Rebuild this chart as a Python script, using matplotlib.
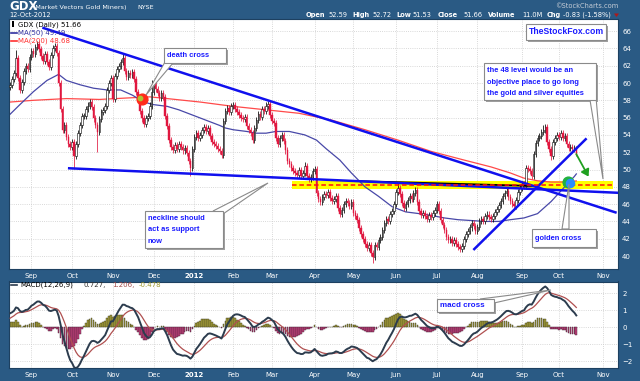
"""GDX daily chart with MA(50)/MA(200), trend lines, callouts and a MACD panel."""
import numpy as np
import matplotlib
matplotlib.use("Agg")
import matplotlib.pyplot as plt
from matplotlib.patches import Rectangle, Polygon, FancyArrowPatch
from matplotlib.lines import Line2D

W, H = 640, 381
BG = "#2a5a84"
UI = "DejaVu Sans"
ANN = "Liberation Sans"

# ---- data (bar index 0 = 17-Aug-2011, 292 = 12-Oct-2012) ----
CLOSES = [
    59.8, 60.5, 61.2, 62.9, 60.6, 59.2, 60.1, 61.4, 62.0, 61.6,
    63.0, 63.7, 63.4, 64.2, 64.5, 63.9, 63.1, 62.6, 63.3, 62.4,
    61.8, 63.2, 64.1, 64.3, 63.5, 60.0, 57.0, 54.6, 55.2, 53.8,
    53.0, 52.6, 53.2, 51.6, 53.0, 54.2, 55.2, 56.2, 56.2, 57.0,
    57.4, 57.8, 57.2, 55.9, 55.1, 54.3, 55.8, 56.6, 56.9, 57.3,
    59.2, 60.0, 60.6, 58.1, 60.8, 61.6, 62.0, 62.4, 62.9, 61.4,
    60.7, 61.2, 60.9, 61.3, 60.5, 59.0, 58.4, 56.8, 55.9, 55.3,
    56.0, 56.2, 57.4, 59.0, 60.0, 59.3, 58.8, 58.3, 58.9, 58.4,
    56.2, 55.0, 53.4, 52.6, 52.3, 52.8, 52.4, 53.0, 52.6, 52.2,
    52.5, 51.9, 51.0, 50.2, 52.4, 53.8, 54.2, 53.6, 54.0, 54.6,
    54.9, 54.4, 54.8, 53.9, 53.2, 52.9, 52.7, 52.4, 52.1, 51.7,
    55.6, 56.8, 57.1, 56.7, 57.3, 57.5, 57.0, 56.6, 56.3, 56.0,
    55.8, 56.1, 55.0, 54.6, 54.2, 53.4, 54.8, 55.7, 56.4, 56.1,
    57.0, 56.8, 57.4, 57.6, 56.3, 55.6, 55.4, 53.6, 53.0, 53.6,
    54.0, 53.3, 52.2, 51.0, 50.6, 50.2, 49.8, 49.6, 49.4, 49.9,
    49.3, 49.6, 50.4, 49.3, 48.9, 49.1, 49.8, 50.1, 47.3, 46.6,
    46.3, 46.8, 47.2, 47.0, 47.4, 46.7, 46.4, 46.6, 46.9, 45.6,
    44.9, 45.3, 46.0, 46.4, 46.1, 45.8, 46.2, 45.0, 44.6, 44.2,
    43.2, 42.5, 42.0, 41.4, 40.9, 41.3, 40.3, 39.9, 41.3, 41.0,
    41.8, 42.2, 43.0, 43.8, 44.3, 44.0, 44.9, 45.2, 46.0, 47.4,
    47.9, 47.2, 46.1, 45.5, 46.0, 46.5, 46.9, 46.6, 47.3, 47.6,
    46.2, 45.2, 44.8, 45.0, 44.6, 44.3, 44.7, 44.5, 45.0, 45.3,
    46.0, 45.2, 44.2, 43.6, 43.0, 42.2, 41.8, 42.0, 41.5, 41.8,
    41.4, 41.0, 40.8, 41.2, 42.0, 42.6, 42.9, 43.3, 43.8, 43.5,
    42.9, 43.4, 44.0, 44.3, 44.1, 44.6, 44.8, 44.5, 44.3, 44.6,
    45.1, 45.4, 45.9, 46.4, 46.9, 47.3, 47.5, 46.8, 46.4, 46.0,
    45.8, 46.5, 47.4, 47.9, 48.3, 48.1, 50.2, 50.1, 49.8, 49.2,
    51.8, 53.1, 53.6, 53.9, 54.3, 54.6, 54.9, 53.2, 52.4, 51.6,
    53.2, 53.6, 54.0, 53.8, 54.2, 53.7, 53.9, 53.0, 52.5, 52.6,
    52.4, 52.49, 51.66,
]
FIRST_OPEN = 59.5
LAST_BAR = {"open": 52.59, "high": 52.72, "low": 51.53}
WICK = 0.35
HIGH_SPIKES = {3: 63.8, 58: 63.4, 73: 60.4, 115: 57.8, 133: 57.9,
               152: 50.9, 200: 48.4, 275: 55.1}
LOW_SPIKES = {33: 50.1, 45: 52.0, 93: 49.2, 187: 39.2, 279: 51.1}

# MACD state carried in from before the visible window
EMA12_START = 58.9
EMA26_START = 58.1
SIGNAL_START = 0.45

MA50_IDX = [0, 5, 12, 19, 25, 29, 36, 43, 50, 57, 63, 69, 74, 81, 87, 94,
            101, 108, 111, 115, 122, 127, 132, 137, 144, 152, 158, 163, 170,
            176, 183, 190, 197, 204, 211, 217, 224, 231, 238, 245, 252, 258,
            265, 272, 279, 286, 291, 292]
MA50_VAL = [56.4, 57.5, 59.0, 60.3, 61.0, 60.3, 59.8, 59.4, 59.2, 59.2, 58.6,
            57.8, 57.5, 57.3, 56.9, 56.3, 55.7, 55.1, 54.8, 54.6, 54.4, 54.2,
            54.2, 54.4, 54.4, 54.0, 53.4, 52.4, 51.1, 49.6, 48.0, 46.9, 45.7,
            45.1, 44.9, 44.7, 44.4, 44.2, 44.1, 44.0, 44.0, 44.2, 44.4, 44.9,
            46.3, 48.0, 49.2, 49.49]
MA200_IDX = [0, 12, 29, 46, 63, 72, 81, 98, 115, 132, 149, 166, 183, 200,
             217, 234, 248, 258, 265, 272, 279, 286, 292]
MA200_VAL = [57.8, 58.0, 58.2, 58.1, 58.3, 58.4, 58.2, 57.8, 57.3, 56.9, 56.5,
             55.7, 54.6, 53.4, 52.1, 51.1, 50.3, 49.6, 49.0, 48.7, 48.55,
             48.55, 48.68]

MONTH_IDX = [11, 32, 53, 74, 95, 115, 135, 157, 177, 199, 220, 241, 264, 283, 306]
MONTH_LBL = ["Sep", "Oct", "Nov", "Dec", "2012", "Feb", "Mar", "Apr", "May",
             "Jun", "Jul", "Aug", "Sep", "Oct", "Nov"]
PRICE_TICKS = list(range(40, 67, 2))
MACD_TICKS = [-2, -1, 0, 1, 2]

# hand-drawn annotations, in (bar index, price)
DOWN_LINE = ([16.6, 312.8], [66.4, 45.0])
NECKLINE = ([29.8, 314.5], [50.15, 47.3])
UP_LINE = ([238.9, 297.3], [40.7, 53.6])
BLACK_LINE = ([180.8, 269.6], [48.65, 48.1])
BAND = (145.2, 311.0, 47.75, 48.7)
DASH_LEVEL = 48.25
ARROW = ((291.3, 52.06), (299.0, 48.9))
DEATH_CROSS = (67.8, 58.2)
GOLDEN_CROSS = (287.9, 48.6)

HEADER_RIGHT = [("Open", True), ("52.59", False), ("High", True), ("52.72", False),
                ("Low", True), ("51.53", False), ("Close", True), ("51.66", False),
                ("Volume", True), ("11.0M", False), ("Chg", True),
                ("-0.83 (-1.58%)", False)]
HEADER_X = [306, 328, 352, 372, 396, 412, 438, 463, 488, 522, 547, 563]


def fx(x):
    return x / W


def fy(y):
    return 1 - y / H


def ptext(x, y, s, **kw):
    kw.setdefault("va", "center")
    kw.setdefault("ha", "left")
    return fig.text(fx(x), fy(y), s, **kw)


def ema(values, span, start):
    alpha = 2.0 / (span + 1)
    out = np.empty(len(values))
    level = start
    for i, v in enumerate(values):
        level = level + alpha * (v - level)
        out[i] = level
    return out


def callout(box, lines, base, tip, fs=5.4, dy=11.3, first=None):
    x0, y0, x1, y1 = box
    fig.add_artist(Rectangle((fx(x0 + 2), fy(y1 + 2)), (x1 - x0) / W, (y1 - y0) / H,
                             transform=fig.transFigure, facecolor="#a0a0a0",
                             edgecolor="none", zorder=10))
    fig.add_artist(Polygon([(fx(base[0][0]), fy(base[0][1])), (fx(tip[0]), fy(tip[1])),
                            (fx(base[1][0]), fy(base[1][1]))], closed=True,
                           transform=fig.transFigure, facecolor="white",
                           edgecolor="#8a8a8a", lw=0.8, zorder=11))
    fig.add_artist(Rectangle((fx(x0), fy(y1)), (x1 - x0) / W, (y1 - y0) / H,
                             transform=fig.transFigure, facecolor="white",
                             edgecolor="#8a8a8a", lw=0.8, zorder=12))
    y = first if first is not None else (y0 + y1) / 2
    for i, s in enumerate(lines):
        ptext(x0 + 3, y + i * dy, s, fontsize=fs, color="#1a1aff",
              fontweight="bold", family=ANN, zorder=13)


closes = np.array(CLOSES)
n = len(closes)
idx = np.arange(n)
opens = np.r_[FIRST_OPEN, closes[:-1]]
opens[-1] = LAST_BAR["open"]
highs = np.maximum(opens, closes) + WICK
lows = np.minimum(opens, closes) - WICK
for k, v in HIGH_SPIKES.items():
    highs[k] = v
for k, v in LOW_SPIKES.items():
    lows[k] = v
highs[-1] = LAST_BAR["high"]
lows[-1] = LAST_BAR["low"]
prev = np.r_[FIRST_OPEN, closes[:-1]]
down_day = closes < prev
hollow = closes >= opens

macd = ema(closes, 12, EMA12_START) - ema(closes, 26, EMA26_START)
signal = ema(macd, 9, SIGNAL_START)
hist = macd - signal

fig = plt.figure(figsize=(W / 100, H / 100), dpi=100, facecolor=BG)
ax = fig.add_axes([fx(9), fy(269), (618 - 9) / W, (269 - 19) / H])
axm = fig.add_axes([fx(9), fy(368), (618 - 9) / W, (368 - 281.5) / H])

grid_kw = dict(color="#cccccc", lw=0.6, ls=(0, (1, 1.6)))
for a in (ax, axm):
    a.set_facecolor("white")
    a.set_xlim(-0.6, 313.5)
    a.set_xticks(MONTH_IDX)
    a.set_xticklabels(MONTH_LBL)
    a.yaxis.tick_right()
    a.tick_params(length=0, colors="white", labelsize=5, pad=3)
    a.grid(True, **grid_kw)
    a.set_axisbelow(True)
    for sp in a.spines.values():
        sp.set_color("#1d4060")
        sp.set_linewidth(0.8)
    for lbl in a.get_xticklabels():
        lbl.set_family(UI)
        if lbl.get_text() == "2012":
            lbl.set_fontweight("bold")
    for lbl in a.get_yticklabels():
        lbl.set_family(UI)

ax.set_ylim(38.5, 67.4)
ax.set_yticks(PRICE_TICKS)
axm.set_ylim(-2.41, 2.68)
axm.set_yticks(MACD_TICKS)

# --- price panel ---
ax.add_patch(Rectangle((BAND[0], BAND[2]), BAND[1] - BAND[0], BAND[3] - BAND[2],
                       facecolor="#ffff00", edgecolor="none", zorder=1))
ax.plot(MA200_IDX, MA200_VAL, color="#ff4a4a", lw=0.9, zorder=2)
ax.plot(MA50_IDX, MA50_VAL, color="#4848a8", lw=0.9, zorder=2)

red = "#e0173f"
wick_col = np.where(down_day, red, "black")
ax.vlines(idx, lows, highs, colors=wick_col, lw=0.55, zorder=3)
body = np.maximum(np.abs(closes - opens), 0.12)
bottom = np.minimum(opens, closes)
h_up = hollow
ax.bar(idx[h_up], body[h_up], bottom=bottom[h_up], width=0.8,
       facecolor="white", edgecolor=wick_col[h_up], lw=0.4, zorder=4)
ax.bar(idx[~h_up], body[~h_up], bottom=bottom[~h_up], width=0.8,
       facecolor=wick_col[~h_up], edgecolor=wick_col[~h_up], lw=0.3, zorder=4)

ax.plot(*BLACK_LINE, color="black", lw=1.3, zorder=5)
for xs, ys in (DOWN_LINE, NECKLINE, UP_LINE):
    ax.plot(xs, ys, color="#1010ee", lw=1.8, zorder=5, solid_capstyle="butt")
ax.plot([BAND[0], BAND[1]], [DASH_LEVEL, DASH_LEVEL], color="#ff1010", lw=1.1,
        ls=(0, (3, 1.8)), zorder=6)
ax.add_patch(FancyArrowPatch(ARROW[0], ARROW[1], arrowstyle="-|>,head_length=4,head_width=2.6",
                             color="#20a020", lw=1.3, zorder=7))
ax.scatter([DEATH_CROSS[0]], [DEATH_CROSS[1]], s=60, color="#ff2a1a", zorder=7)
ax.scatter([DEATH_CROSS[0] - 0.8], [DEATH_CROSS[1] + 0.1], s=10, color="#b0c030", zorder=7)
ax.scatter([GOLDEN_CROSS[0]], [GOLDEN_CROSS[1]], s=60, color="#22b040", zorder=7)
ax.scatter([GOLDEN_CROSS[0] + 0.8], [GOLDEN_CROSS[1] - 0.15], s=34, color="#2a8cff", zorder=7)

# --- MACD panel ---
pos = hist >= 0
axm.bar(idx[pos], hist[pos], width=0.85, facecolor="#aaa23a", edgecolor="#3a3a20",
        lw=0.3, zorder=2)
axm.bar(idx[~pos], hist[~pos], width=0.85, facecolor="#c2407c", edgecolor="#402030",
        lw=0.3, zorder=2)
axm.plot(idx, signal, color="#b05050", lw=0.9, zorder=3)
axm.plot(idx, macd, color="#2c3c4e", lw=1.4, zorder=4)

# --- header ---
ptext(9, 7, "GDX", color="white", fontsize=8.5, fontweight="bold", family=UI)
ptext(33, 7.5, "(Market Vectors Gold Miners)", color="white", fontsize=4.6, family=UI)
ptext(137, 7.5, "NYSE", color="white", fontsize=4.6, family=UI)
ptext(9, 15, "12-Oct-2012", color="white", fontsize=4.8, family=UI)
ptext(618, 6, "\u00a9StockCharts.com", color="#c4ccd6", fontsize=4.8, family=UI, ha="right")
for (txt, bold), x in zip(HEADER_RIGHT, HEADER_X):
    ptext(x, 15, txt, color="white", fontsize=4.8, family=UI,
          fontweight="bold" if bold else "normal")
fig.add_artist(Polygon([(fx(614), fy(13.5)), (fx(619), fy(13.5)), (fx(616.5), fy(17))],
                       closed=True, transform=fig.transFigure, facecolor="#b01818",
                       edgecolor="none", zorder=5))

# --- legends ---
fig.add_artist(Rectangle((fx(11.5), fy(26.5)), 2.5 / W, 5 / H, transform=fig.transFigure,
                         facecolor="black", zorder=5))
ptext(18, 24.3, "GDX (Daily) 51.66", color="black", fontsize=5, family=UI, zorder=6)
fig.add_artist(Line2D([fx(11), fx(17)], [fy(32.7)] * 2, transform=fig.transFigure,
                      color="#3030a0", lw=1.2, zorder=5))
ptext(18, 32.7, "MA(50) 49.49", color="#3030a0", fontsize=5, family=UI, zorder=6)
fig.add_artist(Line2D([fx(11), fx(17)], [fy(40.7)] * 2, transform=fig.transFigure,
                      color="#ff3030", lw=1.2, zorder=5))
ptext(18, 40.7, "MA(200) 48.68", color="#ff3030", fontsize=5, family=UI, zorder=6)

fig.add_artist(Line2D([fx(11), fx(17)], [fy(285)] * 2, transform=fig.transFigure,
                      color="#2c3c4e", lw=1.2, zorder=5))
for txt, x, col in (("MACD(12,26,9)", 20, "black"), ("0.727,", 83, "#333333"),
                    ("1.206,", 112, "#a04848"), ("-0.478", 139, "#a09a30")):
    ptext(x, 285, txt, color=col, fontsize=5, family=UI, zorder=6)

# --- callouts ---
callout((526, 24, 606, 40), ["TheStockFox.com"], ((560, 40), (562, 40)), (561, 40), fs=6.2)
callout((484, 63, 596, 100),
        ["the 48 level would be an", "objective place to go long",
         "the gold and silver equities"],
        ((590, 100), (596, 97)), (603, 179), first=71)
callout((164, 48, 226, 63), ["death cross"], ((165, 62), (173, 63)), (146, 95))
callout((145, 211, 223, 248), ["neckline should", "act as support", "now"],
        ((213, 211), (223, 214)), (268, 183), first=218.5)
callout((532, 229, 596, 247), ["golden cross"], ((562, 229), (569, 229)), (569, 184))
callout((437, 299, 494, 312), ["macd cross"], ((480, 299), (494, 303)), (551, 290), fs=5.8)

fig.savefig("out.png", dpi=100, facecolor=BG)
